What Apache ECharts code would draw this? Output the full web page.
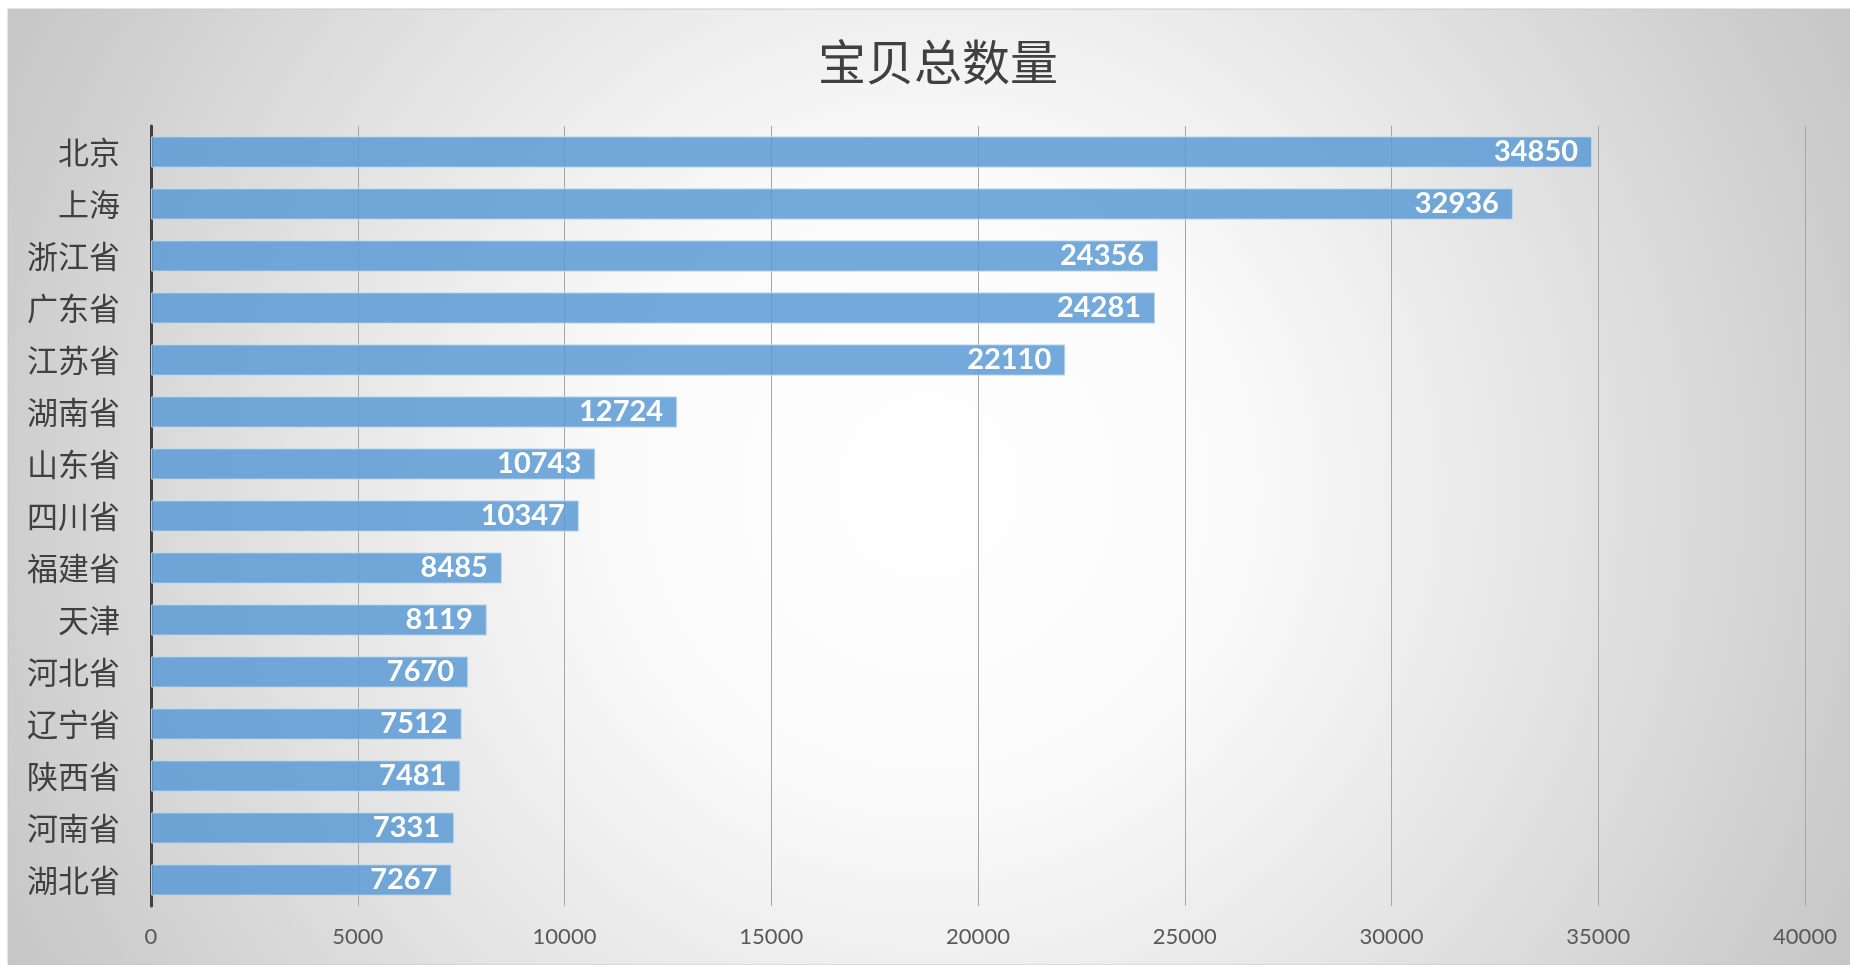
<!DOCTYPE html>
<html>
<head>
<meta charset="utf-8">
<style>
  html, body { margin: 0; padding: 0; background: #ffffff; }
  #chart { width: 1850px; height: 965px; }
</style>
<script src="https://cdn.jsdelivr.net/npm/echarts@6/dist/echarts.min.js"></script>
</head>
<body>
<div id="chart"></div>
<script>
const titleText = '宝贝总数量';
const categories = ['北京', '上海', '浙江省', '广东省', '江苏省', '湖南省', '山东省', '四川省', '福建省', '天津', '河北省', '辽宁省', '陕西省', '河南省', '湖北省'];
const counts = [34850, 32936, 24356, 24281, 22110, 12724, 10743, 10347, 8485, 8119, 7670, 7512, 7481, 7331, 7267];
const axisMax = 40000;
const axisStep = 5000;

const chart = echarts.init(document.getElementById('chart'), null, { renderer: 'canvas' });
chart.setOption({
  backgroundColor: '#ffffff',
  animation: false,
  graphic: [{
    type: 'rect',
    z: -10,
    silent: true,
    shape: { x: 8, y: 9, width: 1842, height: 956 },
    style: {
      fill: {
        type: 'radial', global: true, x: 929, y: 487, r: 1060,
        colorStops: [
          { offset: 0, color: '#ffffff' },
          { offset: 0.3, color: '#fafafa' },
          { offset: 0.6, color: '#e4e4e4' },
          { offset: 0.85, color: '#d0d0d0' },
          { offset: 1, color: '#c4c4c4' }
        ]
      },
      stroke: '#c8c8c8',
      lineWidth: 1
    }
  }],
  title: {
    text: titleText,
    left: 933,
    top: 33,
    textAlign: 'center',
    textStyle: {
      fontFamily: 'Noto Sans CJK SC',
      fontSize: 48,
      fontWeight: 'normal',
      color: '#404040'
    }
  },
  grid: { left: 151, right: 45, top: 126, bottom: 59, containLabel: false },
  xAxis: {
    type: 'value',
    min: 0,
    max: axisMax,
    interval: axisStep,
    axisLine: { show: false },
    axisTick: { show: false },
    splitLine: { show: true, lineStyle: { color: '#a6a6a6', width: 1 } },
    axisLabel: {
      fontFamily: 'Lato',
      fontSize: 22,
      color: '#595959',
      margin: 20,
      formatter: function (v) { return String(v); }
    }
  },
  yAxis: {
    type: 'category',
    data: categories,
    inverse: true,
    axisLine: { show: true, lineStyle: { color: '#404040', width: 3 } },
    axisTick: { show: false },
    axisLabel: {
      fontFamily: 'Noto Sans CJK SC',
      fontSize: 31,
      color: '#404040',
      margin: 31
    }
  },
  series: [{
    type: 'bar',
    data: counts,
    barCategoryGap: '40%',
    itemStyle: {
      color: 'rgba(91,155,213,0.85)',
      borderColor: 'rgba(189,215,238,0.9)',
      borderWidth: 1
    },
    label: {
      show: true,
      position: 'insideRight',
      distance: 14,
      fontFamily: 'Lato',
      fontWeight: 'bold',
      fontSize: 29,
      color: '#ffffff'
    }
  }]
});
</script>
</body>
</html>
